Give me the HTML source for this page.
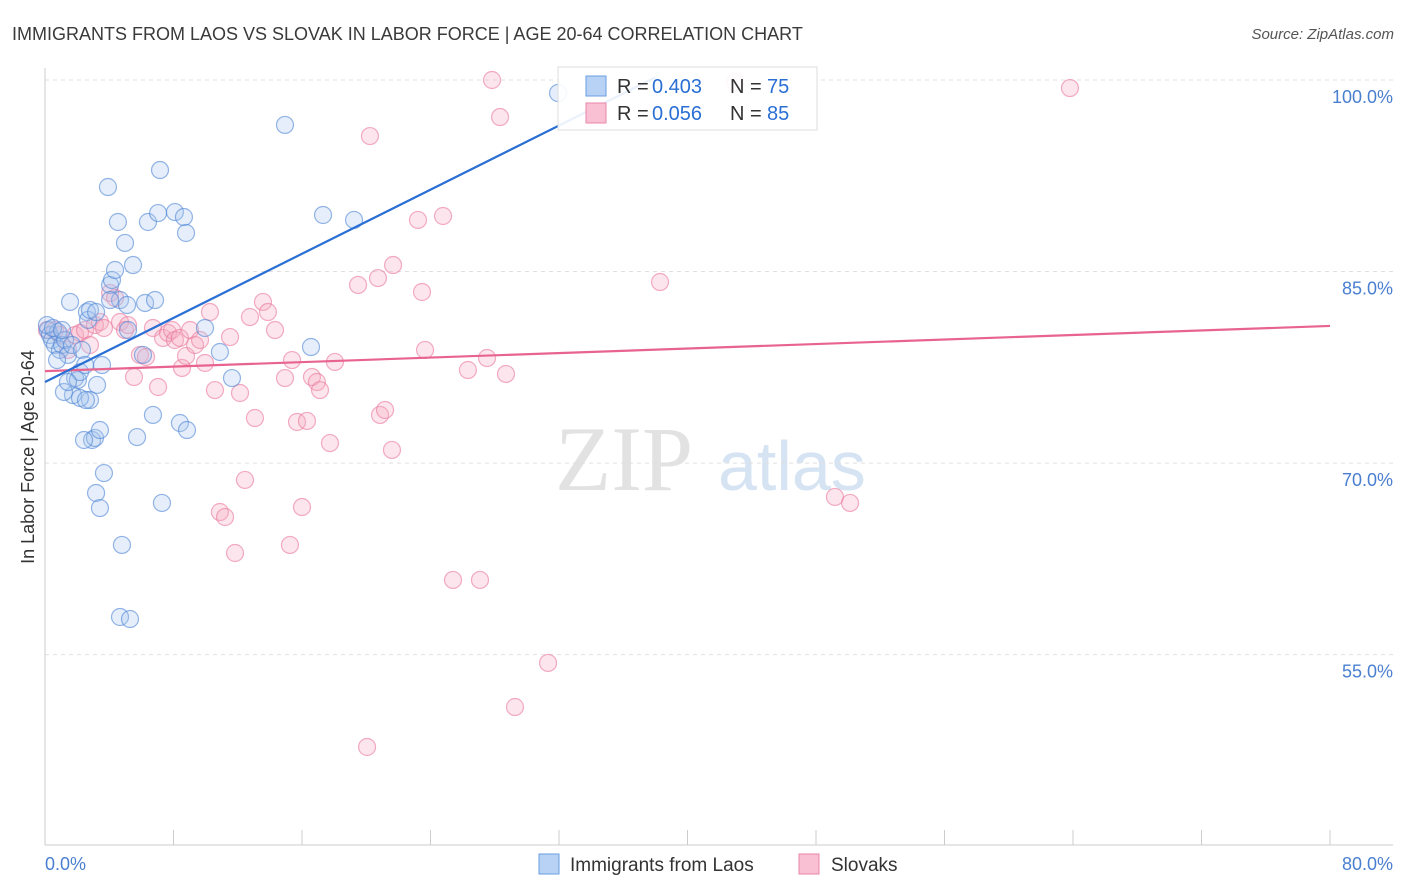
<!DOCTYPE html>
<html><head><meta charset="utf-8">
<style>
body{margin:0;background:#fff;font-family:"Liberation Sans",sans-serif;}
#wrap{position:relative;width:1406px;height:892px;overflow:hidden;}
</style></head>
<body>
<div id="wrap">
<svg id="svg" width="1406" height="892" xmlns="http://www.w3.org/2000/svg">
<text x="12" y="40" font-size="18" fill="#3a3a3a">IMMIGRANTS FROM LAOS VS SLOVAK IN LABOR FORCE | AGE 20-64 CORRELATION CHART</text>
<text x="1394" y="39" font-size="15" fill="#555" font-style="italic" text-anchor="end">Source: ZipAtlas.com</text>
<text x="34" y="457" font-size="18" fill="#333" text-anchor="middle" transform="rotate(-90 34 457)">In Labor Force | Age 20-64</text>
<text x="555" y="490" font-size="92" fill="#e2e2e2" font-family="Liberation Serif">ZIP</text>
<text x="718" y="490" font-size="70" fill="#d5e3f3">atlas</text>
<g id="grid"></g><g id="pts"></g><g id="lines"></g>
</svg>
</div>
<script>
const yTicks=[100,85,70,55];
const yTickLabels=["100.0%","85.0%","70.0%","55.0%"];
const xTickLabels=["0.0%","80.0%"];
const blueStats=["0.403","75"], pinkStats=["0.056","85"];
const bluePx=[[48,330],[50,335],[52,340],[55,345],[58,332],[60,350],[62,345],[65,340],[68,355],[70,302],[72,345],[75,378],[73,395],[78,380],[80,372],[82,350],[85,365],[87,312],[88,320],[90,400],[92,440],[95,438],[97,385],[100,430],[102,365],[104,473],[96,493],[100,508],[108,187],[110,285],[112,280],[115,270],[118,222],[120,300],[122,545],[125,243],[127,305],[128,330],[120,617],[130,619],[133,265],[137,437],[143,355],[145,303],[148,222],[153,415],[155,300],[158,213],[160,170],[162,503],[175,212],[180,423],[184,217],[186,233],[187,430],[205,328],[220,352],[232,378],[285,125],[311,347],[323,215],[354,220],[558,93],[80,398],[86,400],[90,310],[64,392],[57,360],[47,325],[53,328],[62,330],[84,440],[110,300],[96,312],[68,382]];
const pinkPx=[[47,330],[55,330],[60,335],[68,350],[75,335],[80,333],[85,330],[90,345],[95,325],[100,322],[104,328],[110,293],[115,298],[120,322],[125,330],[128,325],[134,377],[140,355],[146,357],[153,328],[158,387],[163,338],[168,333],[172,330],[175,340],[180,338],[182,368],[186,356],[190,330],[195,345],[200,340],[205,363],[210,312],[215,390],[220,512],[225,517],[230,337],[235,553],[240,393],[245,480],[250,317],[255,418],[263,302],[268,312],[275,330],[285,378],[290,545],[292,360],[297,422],[302,507],[307,421],[312,377],[317,382],[320,390],[330,443],[335,362],[358,285],[367,747],[370,136],[378,278],[380,415],[385,410],[392,450],[393,265],[418,220],[422,292],[425,350],[443,216],[453,580],[468,370],[480,580],[487,358],[492,80],[500,117],[506,374],[515,707],[548,663],[660,282],[835,497],[850,503],[1070,88],[735,82]];
const blueX=bluePx.map(p=>+((p[0]-45)*80/1285).toFixed(2));
const blueY=bluePx.map(p=>+(100-(p[1]-80)/12.77).toFixed(2));
const pinkX=pinkPx.map(p=>+((p[0]-45)*80/1285).toFixed(2));
const pinkY=pinkPx.map(p=>+(100-(p[1]-80)/12.77).toFixed(2));
const blueLine=[[0,76.35],[38,100.2]];
const pinkLine=[[0,77.2],[80,80.74]];

const X=v=>45+v*1285/80, Y=v=>80+(100-v)*12.77;
const NS="http://www.w3.org/2000/svg";
function mk(tag,attrs,parent){const e=document.createElementNS(NS,tag);for(const k in attrs)e.setAttribute(k,attrs[k]);parent.appendChild(e);return e;}
const g=document.getElementById('grid'),svg=document.getElementById('svg');
yTicks.forEach((t,i)=>{
 const l=mk('line',{x1:45,x2:1393,y1:Y(t),y2:Y(t),stroke:'#e0e0e0','stroke-dasharray':'4,4'},g);
 
 const tx=mk('text',{x:1393,y:Y(t)+23,'font-size':18,fill:'#4a7fd0','text-anchor':'end'},g);tx.textContent=yTickLabels[i];
 
});
let a=mk('line',{x1:45,x2:45,y1:68,y2:845,stroke:'#ccc'},g);
a=mk('line',{x1:45,x2:1393,y1:845,y2:845,stroke:'#ccc'},g);
for(let i=0;i<=10;i++){const t=mk('line',{x1:X(i*8),x2:X(i*8),y1:830,y2:845,stroke:'#ccc'},g);}
let t1=mk('text',{x:45,y:870,'font-size':18,fill:'#4a7fd0'},g);t1.textContent=xTickLabels[0];
t1=mk('text',{x:1393,y:870,'font-size':18,fill:'#4a7fd0','text-anchor':'end'},g);t1.textContent=xTickLabels[1];
const pg=document.getElementById('pts');
function pts(xs,ys,fill,stroke,name){xs.forEach((x,i)=>{const c=mk('circle',{cx:X(x),cy:Y(ys[i]),r:8.5,fill:fill,'fill-opacity':0.3,stroke:stroke,'stroke-opacity':0.6,'stroke-width':1.2},pg);
});}
pts(pinkX,pinkY,'#f4a9c0','#e9789c','slovak-point');
pts(blueX,blueY,'#a9c8f0','#4f86d6','laos-point');
const lg=document.getElementById('lines');
let ln=mk('line',{x1:X(pinkLine[0][0]),y1:Y(pinkLine[0][1]),x2:X(pinkLine[1][0]),y2:Y(pinkLine[1][1]),stroke:'#e8638f','stroke-width':2.2},lg);

ln=mk('line',{x1:X(blueLine[0][0]),y1:Y(blueLine[0][1]),x2:X(blueLine[1][0]),y2:Y(blueLine[1][1]),stroke:'#2a6fd4','stroke-width':2.2},lg);

const L=mk('g',{},svg);
mk('rect',{x:558,y:67,width:259,height:63,fill:'#fff','fill-opacity':0.9,stroke:'#ddd'},L);
function row(y,fill,stroke,st){mk('rect',{x:586,y:y-10,width:20,height:20,fill:fill,stroke:stroke},L);
 let t=mk('text',{x:617,y:y+7,'font-size':20,fill:'#333'},L);t.textContent='R =';
 t=mk('text',{x:652,y:y+7,'font-size':20,fill:'#2a6fd4'},L);t.textContent=st[0];
 t=mk('text',{x:730,y:y+7,'font-size':20,fill:'#333'},L);t.textContent='N =';
 t=mk('text',{x:767,y:y+7,'font-size':20,fill:'#2a6fd4'},L);t.textContent=st[1];}
row(86,'#b7d2f4','#6a9ee0',blueStats);row(113,'#f8c0d2','#ea86a8',pinkStats);
const B=mk('g',{},svg);
mk('rect',{x:539,y:854,width:20,height:20,fill:'#b7d2f4',stroke:'#6a9ee0'},B);
let bt=mk('text',{x:570,y:871,'font-size':19,fill:'#333'},B);bt.textContent='Immigrants from Laos';
mk('rect',{x:799,y:854,width:20,height:20,fill:'#f8c0d2',stroke:'#ea86a8'},B);
bt=mk('text',{x:831,y:871,'font-size':19,fill:'#333'},B);bt.textContent='Slovaks';
</script>
</body></html>
